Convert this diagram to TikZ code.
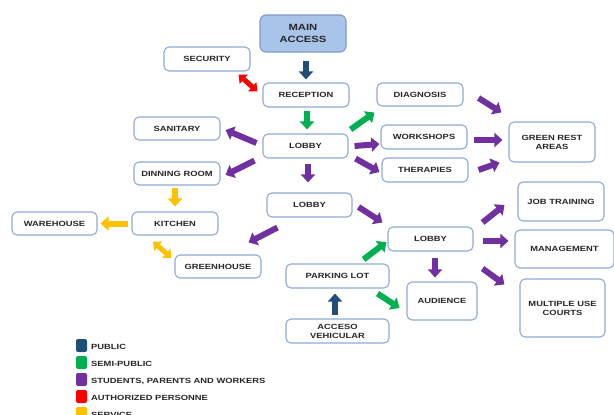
\documentclass[tikz,border=0pt]{standalone}
\usepackage{fontspec}
\setmainfont{Liberation Sans}[FakeStretch=1.25]
\usetikzlibrary{arrows.meta}
\definecolor{pub}{HTML}{1F4E79}
\definecolor{semi}{HTML}{00B050}
\definecolor{stu}{HTML}{7030A0}
\definecolor{auth}{HTML}{FF0000}
\definecolor{serv}{HTML}{FFC000}
\definecolor{bcol}{HTML}{8EAADB}
\definecolor{txt}{HTML}{262626}
\definecolor{mainfill}{HTML}{A9C4EA}
\begin{document}
\begin{tikzpicture}[x=1pt,y=-1pt,
  box/.style={draw=bcol, line width=1.1pt, rounded corners=5pt, fill=white,
    font=\bfseries\fontsize{7.5}{9}\selectfont, text=txt, align=center,
    inner sep=0pt, minimum width=86pt, minimum height=24pt},
  arr/.style={line width=6pt, -{Triangle[length=8pt,width=14pt]}},
  darr/.style={line width=5pt, {Triangle[length=7pt,width=12pt]}-{Triangle[length=7pt,width=12pt]}},
  legsq/.style={rounded corners=2pt, minimum width=11pt, minimum height=13pt, inner sep=0pt},
  legtx/.style={anchor=west, inner sep=0pt, text=txt, font=\bfseries\fontsize{7.5}{9}\selectfont}]
\useasboundingbox (0,0) rectangle (614,415);
\clip (0,0) rectangle (614,415);

% nodes
\node[box, fill=mainfill, draw=bcol!90!black, rounded corners=6pt, minimum height=37pt,
  font=\bfseries\fontsize{9}{11.5}\selectfont] (main) at (303,33.5) {MAIN\\ACCESS};
\node[box] (security) at (207,59) {SECURITY};
\node[box] (reception) at (306,95) {RECEPTION};
\node[box, minimum height=23pt] (diagnosis) at (420,94.5) {DIAGNOSIS};
\node[box] (workshops) at (424,137) {WORKSHOPS};
\node[box] (therapies) at (425,170) {THERAPIES};
\node[box, minimum height=40pt] (green) at (552,142) {GREEN REST\\AREAS};
\node[box, minimum height=23pt] (sanitary) at (177,128.5) {SANITARY};
\node[box, minimum width=85pt] (lobbya) at (305.5,146) {LOBBY};
\node[box, minimum height=23pt] (dinning) at (177,173.5) {DINNING ROOM};
\node[box, minimum width=85pt] (lobbyb) at (309.5,205) {LOBBY};
\node[box, minimum height=23pt] (kitchen) at (175,223.5) {KITCHEN};
\node[box, minimum width=85pt, minimum height=23pt] (warehouse) at (54.5,223.5) {WAREHOUSE};
\node[box, minimum height=23pt] (greenhouse) at (218,266.5) {GREENHOUSE};
\node[box, minimum width=85pt] (lobbyc) at (430.5,239) {LOBBY};
\node[box, minimum width=103pt] (parking) at (337.5,276) {PARKING LOT};
\node[box, minimum width=70pt, minimum height=38pt] (audience) at (442,301) {AUDIENCE};
\node[box, minimum height=39pt] (job) at (561,201.5) {JOB TRAINING};
\node[box, minimum width=99pt, minimum height=38pt] (management) at (564.5,249) {MANAGEMENT};
\node[box, minimum width=85pt, minimum height=58pt] (multiple) at (562.5,308) {MULTIPLE USE\\COURTS};
\node[box, minimum width=103pt] (acceso) at (337.5,331) {ACCESO\\VEHICULAR};

% arrows
\draw[arr, pub] ([shift={(3,8)}]main.south) -- ([shift={(0,-3)}]reception.north);
\draw[darr, auth] ([shift={(-12,3)}]security.south east) -- ([shift={(-5,9)}]reception.north west);
\draw[arr, semi] ([shift={(1,3)}]reception.south) -- ([shift={(1.5,-4)}]lobbya.north);
\draw[arr, semi] ([shift={(2,-4)}]lobbya.north east) -- ([shift={(-2,6)}]diagnosis.south west);
\draw[arr, stu] ([shift={(6,0)}]lobbya.east) -- ([shift={(-1,7)}]workshops.west);
\draw[arr, stu] ([shift={(7,0)}]lobbya.south east) -- ([shift={(-2,2)}]therapies.west);
\draw[arr, stu] ([shift={(-6,-3)}]lobbya.west) -- ([shift={(5,1.5)}]sanitary.east);
\draw[arr, stu] ([shift={(-8,2)}]lobbya.south west) -- ([shift={(5,1.5)}]dinning.east);
\draw[arr, stu] ([shift={(2.5,5)}]lobbya.south) -- ([shift={(-1.5,-10)}]lobbyb.north);
\draw[arr, stu] ([shift={(6,2)}]lobbyb.east) -- ([shift={(-5,-4)}]lobbyc.north west);
\draw[arr, stu] ([shift={(11,10)}]lobbyb.south west) -- ([shift={(-13,-12)}]greenhouse.north east);
\draw[arr, serv] ([shift={(-2,2)}]dinning.south) -- ([shift={(0,-5)}]kitchen.north);
\draw[arr, serv] ([shift={(-3,0)}]kitchen.west) -- ([shift={(3,0)}]warehouse.east);
\draw[darr, serv] ([shift={(-22,6)}]kitchen.south) -- ([shift={(-3,-8.5)}]greenhouse.west);
\draw[arr, stu] ([shift={(15,3.5)}]diagnosis.east) -- ([shift={(-7,-9)}]green.north west);
\draw[arr, stu] ([shift={(6,3)}]workshops.east) -- ([shift={(-6,-2)}]green.west);
\draw[arr, stu] ([shift={(10,0)}]therapies.east) -- ([shift={(-9,0)}]green.south west);
\draw[arr, stu] ([shift={(9,-4)}]lobbyc.north east) -- ([shift={(-13,3.5)}]job.west);
\draw[arr, stu] ([shift={(9,2)}]lobbyc.east) -- ([shift={(-6,-8)}]management.west);
\draw[arr, stu] ([shift={(9,17)}]lobbyc.south east) -- ([shift={(-15,6)}]multiple.north west);
\draw[arr, stu] ([shift={(4.5,6)}]lobbyc.south) -- ([shift={(-7,-4)}]audience.north);
\draw[arr, semi] ([shift={(-26,-4)}]parking.north east) -- ([shift={(-1,3)}]lobbyc.west);
\draw[arr, semi] ([shift={(-12,5)}]parking.south east) -- ([shift={(-7,7)}]audience.west);
\draw[arr, pub] ([shift={(-2.5,-3)}]acceso.north) -- ([shift={(-2.5,5)}]parking.south);

% legend
\node[legsq, fill=pub] (sq1) at (81.5,345.5) {};
\node[legtx] (lt1) at (91,347) {PUBLIC};
\node[legsq, fill=semi] (sq2) at (81.5,362.5) {};
\node[legtx] (lt2) at (91,364) {SEMI-PUBLIC};
\node[legsq, fill=stu] (sq3) at (81.5,379.5) {};
\node[legtx] (lt3) at (91,381) {STUDENTS, PARENTS AND WORKERS};
\node[legsq, fill=auth] (sq4) at (81.5,396.5) {};
\node[legtx] (lt4) at (91,398) {AUTHORIZED PERSONNE};
\node[legsq, fill=serv] (sq5) at (81.5,413.5) {};
\node[legtx] (lt5) at (91,415) {SERVICE};
\end{tikzpicture}
\end{document}
